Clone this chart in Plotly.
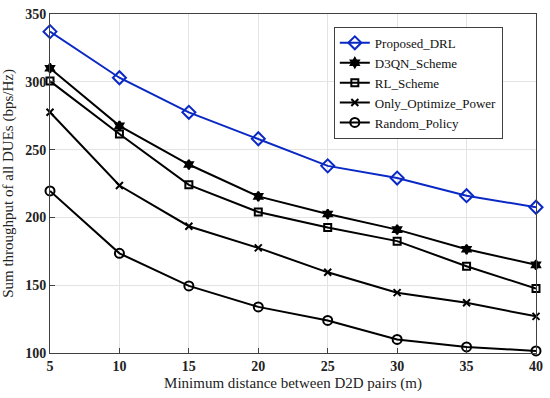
import plotly.graph_objects as go

distance = [5, 10, 15, 20, 25, 30, 35, 40]
proposed_drl = [337, 303, 277.5, 258, 238, 229, 216, 207.5]
d3qn_scheme = [310, 267.5, 239, 215.5, 202.5, 191, 176.5, 165]
rl_scheme = [300.5, 261.5, 224, 204, 192.5, 182.5, 164, 147.5]
only_opt_power = [277.5, 223.5, 193.5, 177.5, 159.5, 144.5, 137, 127]
random_policy = [219.5, 173.5, 149.5, 134, 124, 110, 104.5, 101.5]

series = [
    ("Proposed_DRL", proposed_drl, "#0a29c4", "diamond-open", 10),
    ("D3QN_Scheme", d3qn_scheme, "black", "hexagram", 7),
    ("RL_Scheme", rl_scheme, "black", "square-open", 7),
    ("Only_Optimize_Power", only_opt_power, "black", "x-thin-open", 7),
    ("Random_Policy", random_policy, "black", "circle-open", 9),
]

FONT = "Times New Roman, Liberation Serif, serif"

fig = go.Figure()
for name, vals, color, sym, size in series:
    fig.add_trace(go.Scatter(
        x=distance, y=vals, name=name, mode="lines+markers",
        line=dict(color=color, width=2),
        marker=dict(symbol=sym, size=size, color=color,
                    line=dict(color=color, width=2)),
        cliponaxis=False,
    ))

axis_common = dict(
    showline=True, linecolor="#404040", linewidth=1, mirror=True,
    showgrid=True, gridcolor="#e3e3e3", gridwidth=1,
    ticks="inside", ticklen=5, tickcolor="#404040",
    zeroline=False,
    tickfont=dict(family=FONT, size=14, color="#222222", weight="bold"),
    title_font=dict(family=FONT, size=15, color="#222222"),
)

fig.update_layout(
    width=550, height=398,
    margin=dict(l=50, r=10, t=7, b=45),
    paper_bgcolor="white", plot_bgcolor="white",
    font=dict(family=FONT),
    xaxis=dict(range=[5, 40], tickvals=distance,
               title=dict(text="Minimum distance between D2D pairs (m)", standoff=4),
               **axis_common),
    yaxis=dict(range=[100, 350], tickvals=[100, 150, 200, 250, 300, 350],
               title=dict(text="Sum throughput of all DUEs (bps/Hz)", standoff=8),
               **axis_common),
    legend=dict(
        x=0.584, y=0.962, xanchor="left", yanchor="top",
        bgcolor="white", bordercolor="#404040", borderwidth=1,
        font=dict(family=FONT, size=13, color="#111111"),
        itemwidth=30, tracegroupgap=0,
    ),
    showlegend=True,
)

fig.write_html(
    "out.html",
    config={"displayModeBar": False},
    post_script="document.body.style.margin='0';document.body.style.overflow='hidden';",
)
